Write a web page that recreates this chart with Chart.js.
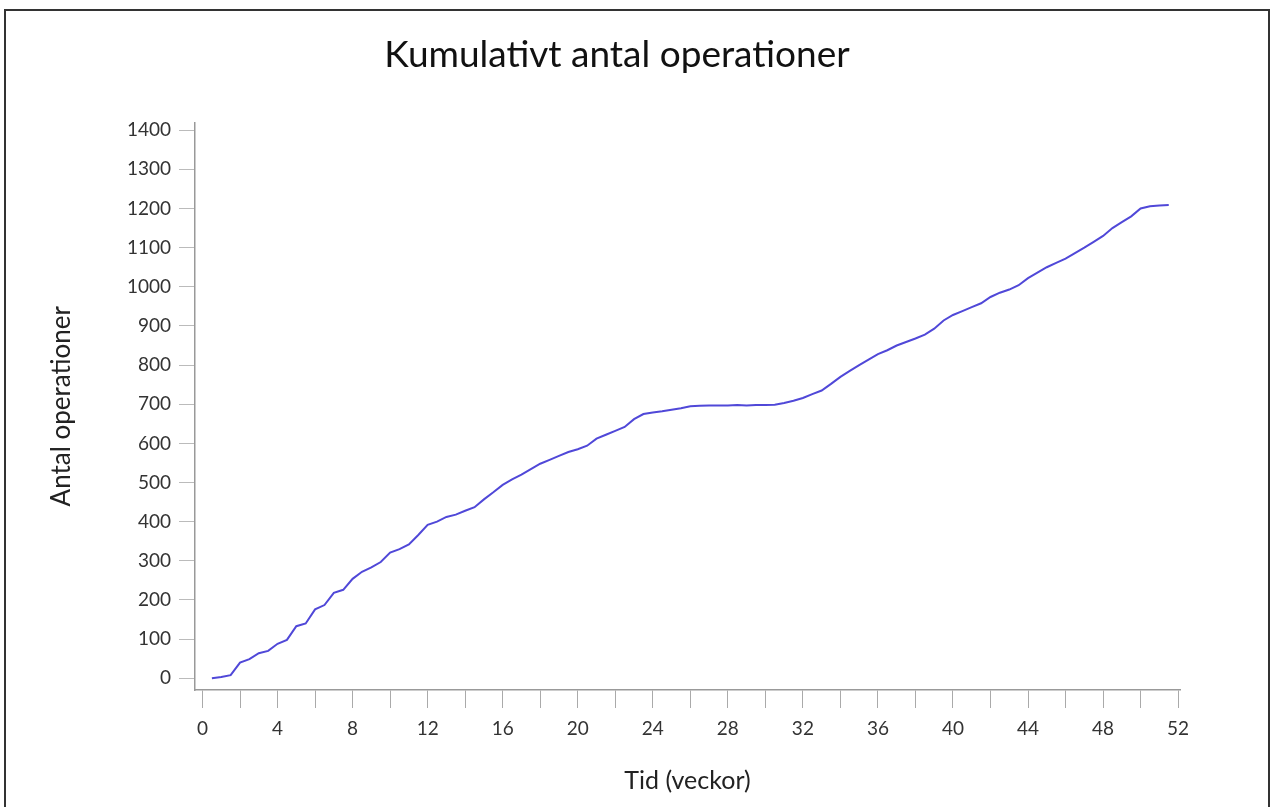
<!DOCTYPE html>
<html>
<head>
<meta charset="utf-8">
<script src="https://cdn.jsdelivr.net/npm/chart.js@4/dist/chart.umd.min.js"></script>
<style>
  body { margin: 0; background: #fff; }
  .frame {
    position: absolute; left: 4px; top: 9px; width: 1262px; height: 820px;
    border: 2px solid #333; border-bottom: none;
  }
  .wrap { position: absolute; left: 0; top: 0; width: 1234px; height: 807px; }
</style>
</head>
<body>
<div class="frame"></div>
<div class="wrap"><canvas id="chart"></canvas></div>
<script>
// weeks (x) and cumulative count (y)
const weeks = [
  0.5, 1, 1.5, 2, 2.5, 3, 3.5, 4, 4.5, 5, 5.5, 6, 6.5, 7, 7.5, 8, 8.5, 9, 9.5, 10,
  10.5, 11, 11.5, 12, 12.5, 13, 13.5, 14, 14.5, 15, 15.5, 16, 16.5, 17, 17.5, 18,
  18.5, 19, 19.5, 20, 20.5, 21, 21.5, 22, 22.5, 23, 23.5, 24, 24.5, 25, 25.5, 26,
  26.5, 27, 27.5, 28, 28.5, 29, 29.5, 30, 30.5, 31, 31.5, 32, 32.5, 33, 33.5, 34,
  34.5, 35, 35.5, 36, 36.5, 37, 37.5, 38, 38.5, 39, 39.5, 40, 40.5, 41, 41.5, 42,
  42.5, 43, 43.5, 44, 44.5, 45, 45.5, 46, 46.5, 47, 47.5, 48, 48.5, 49, 49.5, 50,
  50.5, 51, 51.5
];
const operations = [
  0, 3, 8, 40, 49, 64, 70, 88, 98, 133, 140, 176, 187, 218, 226, 254, 272, 283, 297, 321,
  330, 342, 366, 392, 400, 412, 418, 428, 437, 457, 475, 494, 508, 520, 534, 548,
  558, 568, 578, 585, 594, 612, 622, 632, 642, 662, 675, 679, 682, 686, 690, 695,
  696, 697, 697, 697, 698, 697, 698, 698, 699, 703, 709, 716, 726, 735, 752, 770,
  785, 800, 814, 828, 838, 850, 859, 868, 878, 893, 914, 928, 938, 948, 958, 974,
  985, 993, 1004, 1022, 1036, 1050, 1061, 1072, 1086, 1100, 1115, 1130, 1150, 1165, 1180, 1200,
  1206, 1208, 1209
];
const xTicks = [0, 2, 4, 6, 8, 10, 12, 14, 16, 18, 20, 22, 24, 26, 28, 30, 32, 34, 36, 38, 40, 42, 44, 46, 48, 50, 52];
const yTicks = [0, 100, 200, 300, 400, 500, 600, 700, 800, 900, 1000, 1100, 1200, 1300, 1400];

const fontName = 'Lato, "Open Sans", sans-serif';

const ctx = document.getElementById('chart').getContext('2d');
const chart = new Chart(ctx, {
  type: 'line',
  data: {
    datasets: [{
      data: weeks.map((w, i) => ({ x: w, y: operations[i] })),
      borderColor: '#5048d8',
      borderWidth: 2,
      pointRadius: 0,
      tension: 0,
      fill: false,
    }],
  },
  options: {
    responsive: true,
    maintainAspectRatio: false,
    animation: false,
    // left/right padding equal so the title sits centred at x~617
    layout: { padding: { left: 54, right: 54, top: 0, bottom: 0 } },
    plugins: {
      legend: { display: false },
      tooltip: { enabled: false },
      title: {
        display: true,
        text: 'Kumulativt antal operationer',
        color: '#111',
        font: { family: fontName, size: 37, weight: 'normal' },
        padding: { top: 33, bottom: 45 },
      },
    },
    scales: {
      x: {
        type: 'linear',
        min: -0.4,
        max: 52.1,
        afterBuildTicks: (scale) => { scale.ticks = xTicks.map((v) => ({ value: v })); },
        afterFit: (scale) => { scale.height = 117; },
        ticks: {
          color: '#333',
          font: { family: fontName, size: 19 },
          padding: 9,
          maxRotation: 0,
          autoSkip: false,
          callback: (v) => (v % 4 === 0 ? String(v) : ''),
        },
        grid: { drawOnChartArea: false, drawTicks: true, tickLength: 18, color: '#aaa' },
        border: { display: true, color: '#999', width: 1.5 },
        title: {
          display: true,
          text: 'Tid (veckor)',
          color: '#222',
          font: { family: fontName, size: 25 },
          padding: { top: 0, bottom: 11 },
        },
      },
      y: {
        min: -30,
        max: 1420,
        afterBuildTicks: (scale) => { scale.ticks = yTicks.map((v) => ({ value: v })); },
        afterFit: (scale) => { scale.width = 141; },
        ticks: {
          color: '#333',
          font: { family: fontName, size: 19 },
          padding: 8,
          callback: (v) => String(v),
        },
        grid: { drawOnChartArea: false, drawTicks: true, tickLength: 16, color: '#bbb' },
        border: { display: true, color: '#999', width: 1.5 },
        title: {
          display: true,
          text: 'Antal operationer',
          color: '#222',
          font: { family: fontName, size: 26 },
          padding: { top: -8, bottom: 0 },
        },
      },
    },
  },
});
</script>
</body>
</html>
